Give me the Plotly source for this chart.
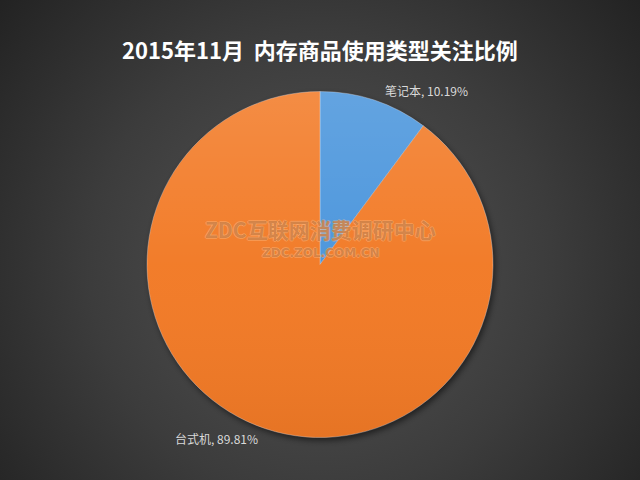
import base64
import plotly.graph_objects as go

# Chart data
title_text = "2015年11月  内存商品使用类型关注比例"
categories = ["笔记本", "台式机"]
shares = [10.19, 89.81]
slice_colors = ["#4a95dc", "#f27a26"]

W, H = 640, 480
cx, cy, r = 320.5, 264.5, 173.0  # pie centre / radius in px

def svg_uri(svg):
    return "data:image/svg+xml;base64," + base64.b64encode(svg.encode("utf-8")).decode("ascii")

# dark radial backdrop with a soft drop shadow beneath the pie
bg_svg = f'''<svg xmlns="http://www.w3.org/2000/svg" width="{W}" height="{H}" viewBox="0 0 {W} {H}">
<defs>
<radialGradient id="g" gradientUnits="userSpaceOnUse" cx="{cx}" cy="{cy}" r="420">
<stop offset="0" stop-color="#555555"/><stop offset="0.55" stop-color="#3c3c3c"/><stop offset="1" stop-color="#222222"/>
</radialGradient>
<filter id="b" x="-20%" y="-20%" width="140%" height="140%"><feGaussianBlur stdDeviation="3"/></filter>
</defs>
<rect width="{W}" height="{H}" fill="url(#g)"/>
<circle cx="{cx + 1.5}" cy="{cy + 3}" r="{r}" fill="rgba(0,0,0,0.55)" filter="url(#b)"/>
</svg>'''

# light-to-dark sheen laid over the pie
sheen_svg = f'''<svg xmlns="http://www.w3.org/2000/svg" width="{2*r}" height="{2*r}" viewBox="0 0 {2*r} {2*r}">
<defs><linearGradient id="s" x1="0" y1="0" x2="0" y2="1">
<stop offset="0" stop-color="#ffffff" stop-opacity="0.14"/>
<stop offset="0.5" stop-color="#ffffff" stop-opacity="0.02"/>
<stop offset="1" stop-color="#000000" stop-opacity="0.05"/>
</linearGradient></defs>
<circle cx="{r}" cy="{r}" r="{r}" fill="url(#s)"/>
</svg>'''

dom_y = [1 - (cy + r) / H, 1 - (cy - r) / H]

fig = go.Figure(go.Pie(
    labels=categories,
    values=shares,
    sort=False,
    direction="clockwise",
    rotation=0,
    textinfo="none",
    hoverinfo="label+percent",
    marker=dict(colors=slice_colors, line=dict(color="rgba(220,225,235,0.45)", width=0.8)),
    domain=dict(x=[0, 1], y=dom_y),
    showlegend=False,
))

font_cjk = "Noto Sans CJK SC, Microsoft YaHei, sans-serif"
wm_color = "rgba(185,100,40,0.62)"
halo = "rgba(255,200,150,0.55)"
wm_shadow = f"1px 0 0 {halo}, -1px 0 0 {halo}, 0 1px 0 {halo}, 0 -1px 0 {halo}"

annotations = [
    dict(text=f"<b>{title_text}</b>", x=0.5, y=1 - 31 / H, xref="paper", yref="paper",
         showarrow=False, font=dict(family=font_cjk, size=22, color="#ffffff", weight=700)),
    dict(text="<b>ZDC互联网消费调研中心</b>", x=cx / W, y=1 - 229 / H, xref="paper", yref="paper",
         showarrow=False,
         font=dict(family=font_cjk, size=21, color=wm_color, shadow=wm_shadow)),
    dict(text="<b>ZDC.ZOL.COM.CN</b>", x=cx / W, y=1 - 253 / H, xref="paper", yref="paper",
         showarrow=False,
         font=dict(family="DejaVu Sans, sans-serif", size=12, color=wm_color,
                   shadow=wm_shadow)),
]

# value labels next to each slice
label_pos = [(426, 80), (216, 449)]
for name, val, (lx, ly) in zip(categories, shares, label_pos):
    annotations.append(dict(text=f"{name}, {val:.2f}%", x=lx / W, y=1 - ly / H,
                            xref="paper", yref="paper", showarrow=False,
                            font=dict(family=font_cjk, size=12, color="#d9d9d9")))

fig.update_layout(
    width=W, height=H,
    margin=dict(l=0, r=0, t=0, b=0),
    paper_bgcolor="#2b2b2b",
    plot_bgcolor="#2b2b2b",
    annotations=annotations,
    images=[
        dict(source=svg_uri(bg_svg), xref="paper", yref="paper", x=0, y=1,
             sizex=1, sizey=1, sizing="stretch", xanchor="left", yanchor="top", layer="below"),
        dict(source=svg_uri(sheen_svg), xref="paper", yref="paper",
             x=(cx - r) / W, y=1 - (cy - r) / H, sizex=2 * r / W, sizey=2 * r / H,
             sizing="stretch", xanchor="left", yanchor="top", layer="above"),
    ],
)

fig.write_html("out.html")
